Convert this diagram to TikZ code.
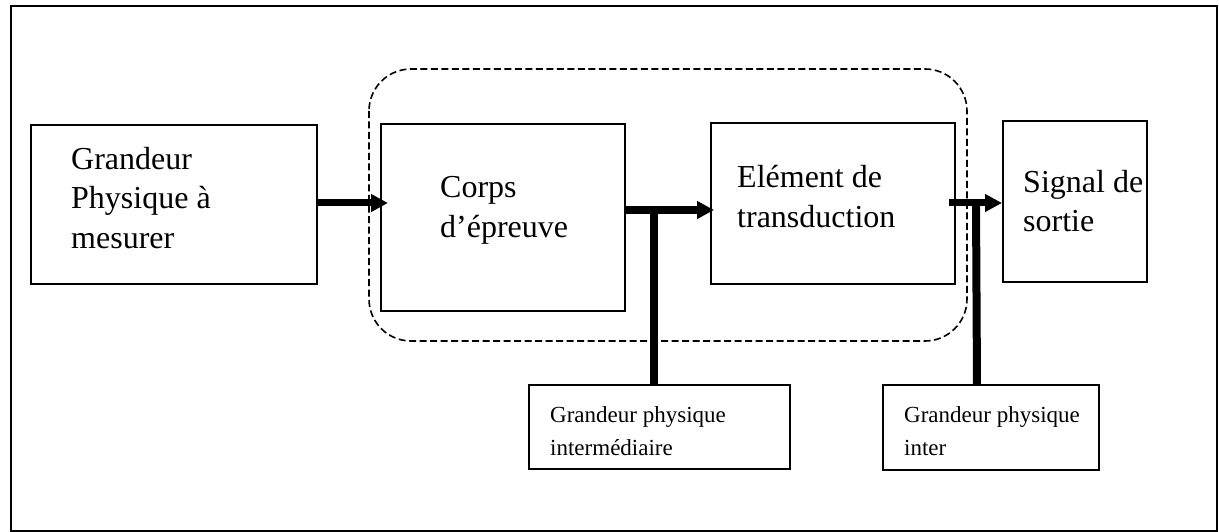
\documentclass[tikz,border=0pt]{standalone}
\usepackage{fontspec}
\setmainfont{Liberation Serif}
\usetikzlibrary{arrows.meta}
\begin{document}
\begin{tikzpicture}[x=1pt,y=-1pt,
  box/.style={draw,line width=2pt,inner sep=0pt,outer sep=0pt},
  bigtxt/.style={inner sep=0pt,anchor=base west,align=left,
    font=\fontsize{32}{39.5}\selectfont},
  smalltxt/.style={inner sep=0pt,anchor=base west,align=left,
    font=\fontsize{23}{33}\selectfont},
  flow/.style={line width=7pt,-{Triangle[length=17pt,width=17pt]}},
  stem/.style={line width=8pt},
  group/.style={draw,line width=1.6pt,dash pattern=on 7pt off 3.5pt,rounded corners=42pt}]
\useasboundingbox (0,0) rectangle (1219,532);
% outer frame
\draw[line width=2.5pt] (11,6) rectangle (1217,531);
% sensor group (dashed)
\draw[group] (369,69) rectangle (967,341);
% blocks
\node[box,minimum width=286pt,minimum height=159pt] (b1) at (174,204.5) {};
\node[box,minimum width=244pt,minimum height=187pt] (b2) at (503,217.5) {};
\node[box,minimum width=244pt,minimum height=161pt] (b3) at (833,203.5) {};
\node[box,minimum width=144pt,minimum height=161pt] (b4) at (1075,201.5) {};
\node[box,minimum width=261pt,minimum height=84pt] (b5) at (659.5,427) {};
\node[box,minimum width=216pt,minimum height=85pt] (b6) at (991,427.5) {};
% texts (placed at the baseline of their last line)
\node[bigtxt] (t1) at (71,248) {Grandeur\\Physique à\\mesurer};
\node[bigtxt] (t2) at (440,237) {Corps\\d’épreuve};
\node[bigtxt] (t3) at (737,227) {Elément de\\transduction};
\node[bigtxt] (t4) at (1023,232) {Signal de\\sortie};
\node[smalltxt] (t5) at (550,455) {Grandeur physique\\intermédiaire};
\node[smalltxt] (t6) at (904,455) {Grandeur physique\\inter};
% connectors
\coordinate (a1) at ([yshift=1.5pt]b1.east);
\coordinate (a2) at ([yshift=7.5pt]b2.east);
\coordinate (a3) at ([xshift=-6pt,yshift=0.5pt]b3.east);
\coordinate (s1) at (654,210);
\coordinate (s2) at (976,203);
\draw[flow] (a1) -- ([xshift=7pt]a1 -| b2.west);
\draw[flow] (a2) -- ([xshift=3pt]a2 -| b3.west);
\draw[flow] (a3) -- ([xshift=-1pt]a3 -| b4.west);
\draw[stem] (s1) -- (s1 |- b5.north);
\draw[stem] (s2) -- ([xshift=1pt]s2 |- b6.north);
\end{tikzpicture}
\end{document}
